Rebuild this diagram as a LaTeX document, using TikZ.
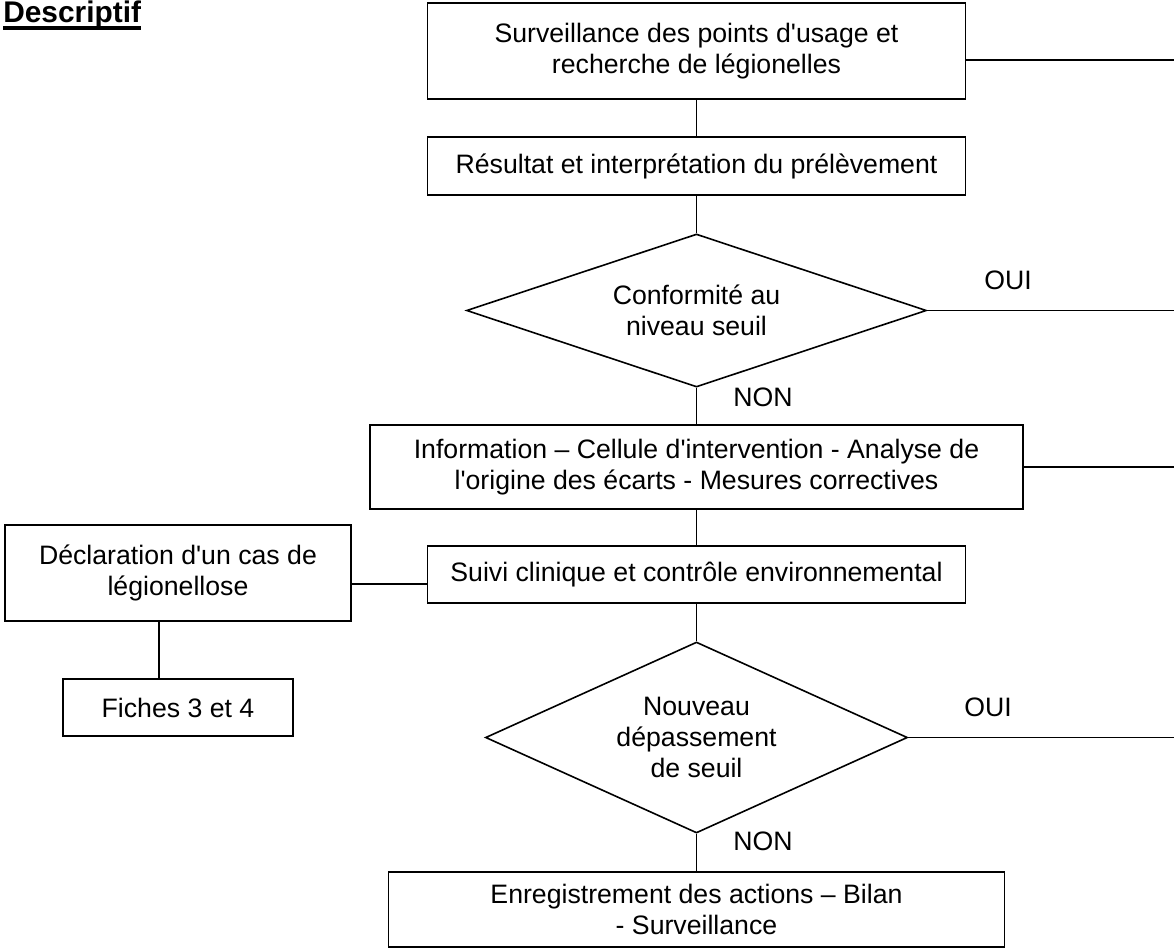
\documentclass[tikz,border=0pt]{standalone}
\usepackage{fontspec}
\setmainfont{Liberation Sans}[Ligatures=TeXOff]
\usetikzlibrary{shapes.geometric}
\begin{document}
\begin{tikzpicture}[x=0.75pt,y=-0.75pt,
  txt/.style={font=\fontsize{20}{23}\selectfont},
  box/.style={txt, draw, line width=1.2pt, rectangle, inner sep=0pt, align=center},
  dia/.style={txt, draw, line width=1.2pt, diamond, inner sep=0pt, align=center},
  lbl/.style={txt, inner sep=0pt},
  conn/.style={line width=1.2pt}]
\useasboundingbox (0,0) rectangle (1174,950);

\node[font=\bfseries\fontsize{22.4}{26}\selectfont, inner sep=0pt, anchor=base west] (title) at (3,22) {Descriptif};
\draw[line width=3pt] ([yshift=-4.5pt]title.base west) -- ([yshift=-4.5pt]title.base east);

\node[box, minimum width=403.5pt, minimum height=72pt] (b1) at (696.5,51) {Surveillance des points d'usage et\\recherche de légionelles};
\node[box, minimum width=403.5pt, minimum height=43.5pt] (b2) at (696.5,166) {Résultat et interprétation du prélèvement};
\node[dia, aspect=3, minimum width=345pt, minimum height=114.75pt] (d1) at (696.5,310.5) {Conformité au\\niveau seuil};
\node[box, minimum width=489.75pt, minimum height=63pt] (b3) at (696.5,467) {Information – Cellule d'intervention - Analyse de\\l'origine des écarts - Mesures correctives};
\node[box, minimum width=403.5pt, minimum height=42.75pt] (b4) at (696.5,574.5) {Suivi clinique et contrôle environnemental};
\node[box, minimum width=259.5pt, minimum height=72pt] (decl) at (178,573) {Déclaration d'un cas de\\légionellose};
\node[box, minimum width=172.5pt, minimum height=42.75pt] (fiches) at (178,707.5) {Fiches 3 et 4};
\node[dia, aspect=2.2, minimum width=316.5pt, minimum height=143.25pt] (d2) at (696.5,737.5) {Nouveau\\dépassement\\de seuil};
\node[box, minimum width=462pt, minimum height=56.25pt] (b5) at (696.5,909.5) {Enregistrement des actions – Bilan\\- Surveillance};

\node[lbl] (oui1) at (1008,280) {OUI};
\node[lbl] (non1) at (763,397) {NON};
\node[lbl] (oui2) at (988,707) {OUI};
\node[lbl] (non2) at (763,841) {NON};

\coordinate (r1) at (1174,60);
\coordinate (r2) at (1174,310.5);
\coordinate (r3) at (1174,467);
\coordinate (r4) at (1174,737.5);
\coordinate (h1) at (0,584);

\draw[conn] (b1.east |- r1) -- (r1);
\draw[conn] (d1.east) -- (r2);
\draw[conn] (b3.east) -- (r3);
\draw[conn] (d2.east) -- (r4);

\draw[conn] (b1) -- (b2);
\draw[conn] (b2) -- (d1);
\draw[conn] (d1) -- (b3);
\draw[conn] (b3) -- (b4);
\draw[conn] (b4) -- (d2);
\draw[conn] (d2) -- (b5);
\draw[conn] (decl.east |- h1) -- (b4.west |- h1);
\draw[conn] ([xshift=-14.25pt]decl.south) -- ([xshift=-14.25pt]fiches.north);
\end{tikzpicture}
\end{document}
